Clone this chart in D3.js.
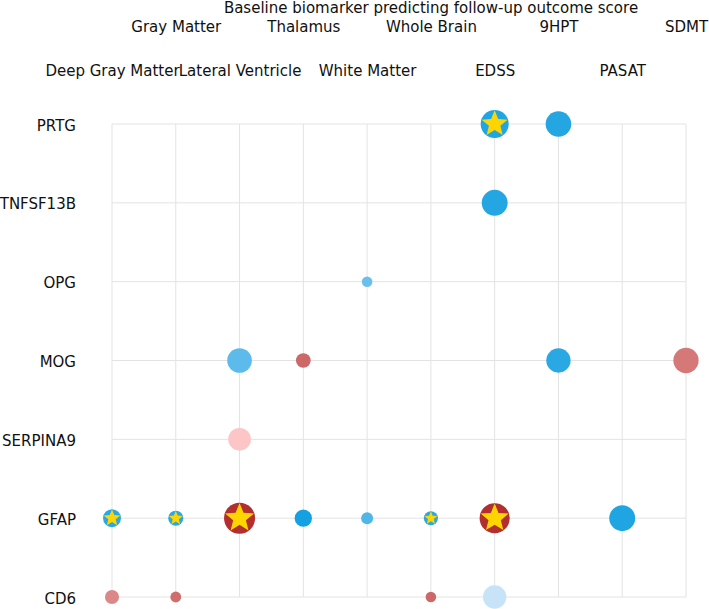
<!DOCTYPE html>
<html>
<head>
<meta charset="utf-8">
<script src="https://cdn.jsdelivr.net/npm/d3@7/dist/d3.min.js"></script>
<style>
  html, body { margin: 0; padding: 0; background: #fff; }
  svg { display: block; font-family: "DejaVu Sans", sans-serif; }
</style>
</head>
<body>
<svg id="chart" width="709" height="609"></svg>
<script>
// ---- data ----
const title = "Baseline biomarker predicting follow-up outcome score";
const outcomes = ["Deep Gray Matter", "Gray Matter", "Lateral Ventricle", "Thalamus",
  "White Matter", "Whole Brain", "EDSS", "9HPT", "PASAT", "SDMT"];
const biomarkers = ["PRTG", "TNFSF13B", "OPG", "MOG", "SERPINA9", "GFAP", "CD6"];

// per point: biomarker, outcome, effect (signed), weight, significant
const pointBiomarker = ["PRTG","PRTG","TNFSF13B","OPG","MOG","MOG","MOG","MOG","SERPINA9",
  "GFAP","GFAP","GFAP","GFAP","GFAP","GFAP","GFAP","GFAP","CD6","CD6","CD6","CD6"];
const pointOutcome = ["EDSS","9HPT","EDSS","White Matter","Lateral Ventricle","Thalamus","9HPT","SDMT","Lateral Ventricle",
  "Deep Gray Matter","Gray Matter","Lateral Ventricle","Thalamus","White Matter","Whole Brain","EDSS","PASAT",
  "Deep Gray Matter","Gray Matter","Whole Brain","EDSS"];
const pointEffect = [-0.64,-0.62,-0.62,-0.37,-0.40,0.50,-0.60,0.45,0.15,
  -0.60,-0.60,0.68,-0.68,-0.45,-0.60,0.68,-0.64,
  0.40,0.48,0.50,-0.17];
const pointWeight = [0.875,0.80,0.81,0.33,0.77,0.46,0.76,0.79,0.71,
  0.56,0.47,0.97,0.54,0.375,0.44,0.94,0.81,
  0.44,0.34,0.33,0.73];
const pointSig = [true,false,false,false,false,false,false,false,false,
  true,true,true,false,false,true,true,false,
  false,false,false,false];

const points = pointBiomarker.map((b, i) => ({
  biomarker: b, outcome: pointOutcome[i], effect: pointEffect[i],
  weight: pointWeight[i], sig: pointSig[i]
}));

// ---- scales ----
const svg = d3.select("#chart");
const x = d3.scalePoint().domain(outcomes).range([112, 686]);
const y = d3.scalePoint().domain(biomarkers).range([124, 597]);
const r = d3.scaleLinear().domain([0, 1]).range([0, 16]);
const color = d3.scaleLinear()
  .domain([-0.7, -0.4, -0.15, 0, 0.15, 0.4, 0.7])
  .range(["#0f9fe0", "#5cbbea", "#cfe6f9", "#ffffff", "#fcc6c6", "#dc8888", "#b02828"]);

// ---- grid ----
const grid = svg.append("g").attr("stroke", "#e3e3e3").attr("stroke-width", 1);
grid.selectAll("line.h").data(biomarkers).join("line")
  .attr("class", "h")
  .attr("x1", x.range()[0]).attr("x2", x.range()[1])
  .attr("y1", d => y(d)).attr("y2", d => y(d));
grid.selectAll("line.v").data(outcomes).join("line")
  .attr("class", "v")
  .attr("y1", y.range()[0]).attr("y2", y.range()[1])
  .attr("x1", d => x(d)).attr("x2", d => x(d));

// ---- axes ----
const fs = "15px";
const txt = "#111";
const yAxis = svg.append("g")
  .attr("transform", `translate(${x.range()[0]},0)`)
  .call(d3.axisLeft(y).tickSize(0).tickPadding(36));
yAxis.select(".domain").remove();
yAxis.selectAll("text").attr("font-size", fs).attr("fill", txt)
  .attr("font-family", "DejaVu Sans, sans-serif").attr("dy", "0.41em");

const xAxis = svg.append("g")
  .call(d3.axisTop(x).tickSize(0).tickPadding(0));
xAxis.select(".domain").remove();
xAxis.selectAll("text").attr("font-size", fs).attr("fill", txt)
  .attr("font-family", "DejaVu Sans, sans-serif")
  .attr("dy", null)
  .attr("y", (d, i) => (i % 2 === 0 ? 76 : 32));

svg.append("text")
  .attr("x", 431).attr("y", 13)
  .attr("text-anchor", "middle")
  .attr("font-size", fs).attr("fill", txt)
  .text(title);

// ---- marks ----
function starPath(R, ratio) {
  const pts = [];
  for (let k = 0; k < 10; k++) {
    const rad = k % 2 === 0 ? R : R * ratio;
    const a = -Math.PI / 2 + k * Math.PI / 5;
    pts.push([rad * Math.cos(a), rad * Math.sin(a)]);
  }
  return "M" + pts.map(p => p.join(",")).join("L") + "Z";
}

const g = svg.append("g");
const node = g.selectAll("g.pt").data(points).join("g")
  .attr("class", "pt")
  .attr("transform", d => `translate(${x(d.outcome)},${y(d.biomarker)})`);
node.append("circle")
  .attr("r", d => r(d.weight))
  .attr("fill", d => color(d.effect));
node.filter(d => d.sig).append("path")
  .attr("d", d => starPath(r(d.weight) * 0.98, 0.44))
  .attr("fill", "#ffd500");
</script>
</body>
</html>
